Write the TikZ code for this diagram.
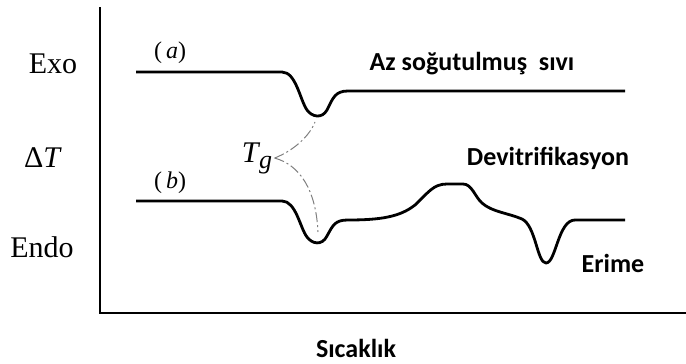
\documentclass[tikz,border=0pt]{standalone}
\usepackage{fontspec}
\setmainfont{Liberation Serif}
\setsansfont{Carlito}
\usepackage{tikz}

\begin{document}
\begin{tikzpicture}[x=0.5pt,y=-0.5pt,
    axis/.style={line width=1pt},
    trace/.style={line width=1.4pt,line join=round},
    guide/.style={gray,line width=0.5pt,dash pattern=on 5pt off 1.5pt on 1pt off 1.5pt},
    side/.style={anchor=base,font=\fontsize{15}{18}\selectfont},
    tag/.style={anchor=base,font=\fontsize{12}{14}\selectfont},
    lbl/.style={anchor=base,font=\sffamily\bfseries\fontsize{13}{16}\selectfont}]
  \useasboundingbox (0,0) rectangle (686,364);

  % axes
  \coordinate (top) at (100,7);
  \coordinate (origin) at (100,313);
  \coordinate (right) at (686,313);
  \draw[axis] (top) -- (origin) -- (right);

  % left labels
  \node[side] (exo) at (53,73) {Exo};
  \node[side] (dT) at (43,167) {Δ\textit{T}};
  \node[side] (endo) at (42,257) {Endo};
  \node[lbl] (temp) at (356,357) {Sıcaklık};

  % curve (a)
  \node[tag] (a) at (170,58) {(\,\textit{a})};
  \draw[trace] (136,72) -- (282,72)
    .. controls (296,72) and (300,100) .. (307,110)
    .. controls (312,117) and (322,119) .. (327,110)
    .. controls (333,98) and (335,91) .. (348,91)
    -- (625,91);
  \coordinate (mina) at (315,122);
  \node[lbl] (liquid) at (472,70) {Az soğutulmuş\ \ sıvı};

  % curve (b)
  \node[tag] (b) at (170,188) {(\,\textit{b})};
  \draw[trace] (136,201) -- (282,201)
    .. controls (296,201) and (300,228) .. (307,237)
    .. controls (312,244) and (322,246) .. (327,236)
    .. controls (333,225) and (335,220) .. (348,220)
    .. controls (380,220) and (400,217) .. (415,205)
    .. controls (428,193) and (433,184) .. (447,184)
    -- (463,184)
    .. controls (472,184) and (475,197) .. (482,203)
    .. controls (492,212) and (508,213) .. (522,219)
    .. controls (536,226) and (537,263) .. (546,263)
    .. controls (556,263) and (558,220) .. (575,220)
    -- (625,220);
  \coordinate (minb) at (318,232);
  \node[lbl] (devit) at (548,165) {Devitrifikasyon};
  \node[lbl] (melt) at (613,272) {Erime};

  % glass transition
  \node[anchor=base,font=\fontsize{15}{18}\selectfont,inner sep=1pt] (tg) at (257,162)
    {\textit{T}\kern-0.5pt\raisebox{-0.45ex}{\fontsize{13}{15}\selectfont\textit{g}}};
  \draw[guide] (tg.east) .. controls (295,150) and (310,135) .. (mina);
  \draw[guide] (tg.east) .. controls (300,165) and (316,190) .. (minb);
\end{tikzpicture}
\end{document}
